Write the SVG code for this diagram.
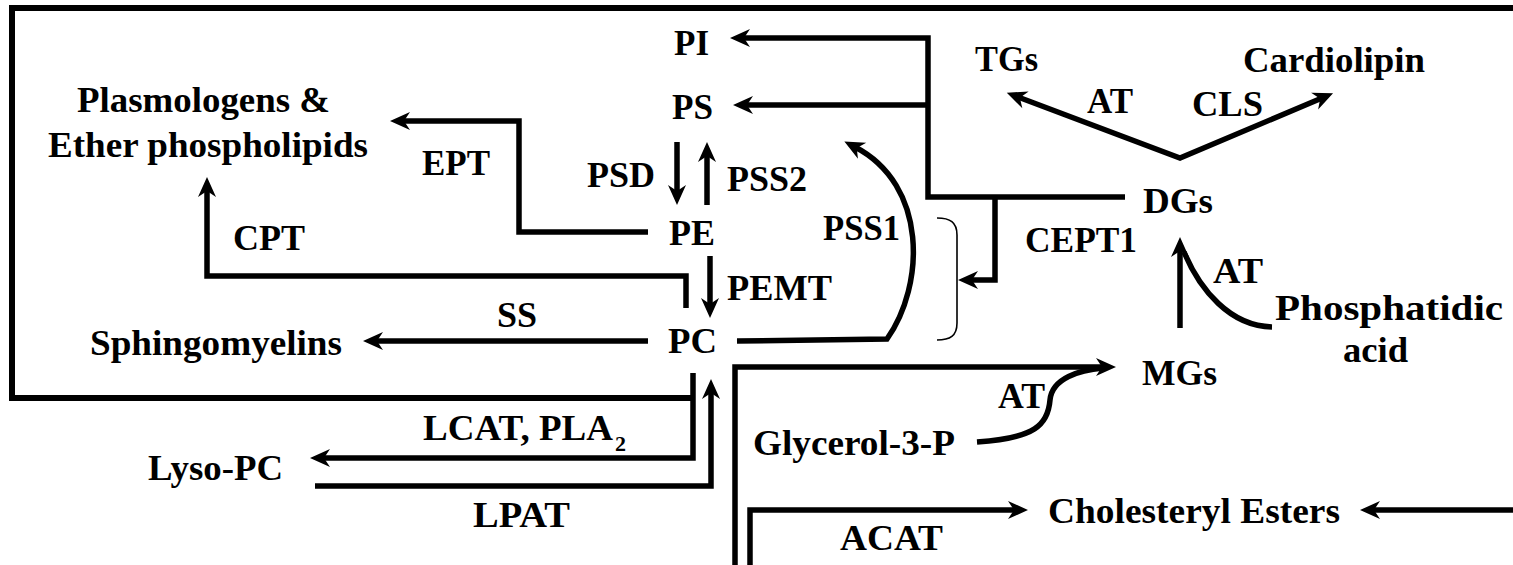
<svg xmlns="http://www.w3.org/2000/svg" width="1513" height="565" viewBox="0 0 1513 565">
<style>
text{font-family:"Liberation Serif","Times New Roman",serif;font-weight:bold;font-size:36px;fill:#000}
.sub{font-size:22px}
.ln{fill:none;stroke:#000;stroke-width:5.5;stroke-linejoin:miter}
.fr{fill:none;stroke:#000;stroke-width:6}
.thin{fill:none;stroke:#000;stroke-width:1.6}
.arr{marker-end:url(#ah)}
</style>
<defs>
<marker id="ah" viewBox="-21 -10 22 20" refX="-12" refY="0" markerWidth="22" markerHeight="20" markerUnits="userSpaceOnUse" orient="auto-start-reverse">
<path d="M0,0 L-20,-9 L-14,0 L-20,9 Z" fill="#000"/>
</marker>
</defs>
<rect width="1513" height="565" fill="#fff"/>
<g id="connectors">
<path class="fr" d="M1530 8 H12 V398 H693"/>
<path class="ln arr" d="M693 373 V458 H322"/>
<path class="ln arr" d="M315 486 H711 V391"/>
<path class="ln arr" d="M1125 197 H928 V38 H742"/>
<path class="ln arr" d="M928 105 H745"/>
<path class="ln arr" d="M995 197 V280 H970"/>
<path class="ln arr" d="M677 142 V193"/>
<path class="ln arr" d="M707 205 V154"/>
<path class="ln arr" d="M710 256 V306"/>
<path class="ln arr" d="M648 232 H519 V121 H402"/>
<path class="ln arr" d="M686 308 V276 H207 V189"/>
<path class="ln arr" d="M648 341 H375"/>
<path class="ln arr" d="M737 341 L887 339 C925 285 928 185 855 147"/>
<path class="thin" d="M937 218 C950 218 957 222 957 235 V323 C957 336 950 340 937 340"/>
<path class="ln arr" d="M735 570 V367 H1104"/>
<path class="ln" d="M977 442 C1035 438 1048 425 1050 400 C1052 378 1080 370 1103 368"/>
<path class="ln arr" d="M750 570 V510 H1016"/>
<path class="ln arr" d="M1520 510 H1372"/>
<path class="ln" style="marker-start:url(#ah);marker-end:url(#ah)" d="M1018 97 L1180 158 L1322 98"/>
<path class="ln arr" d="M1180 328 V249"/>
<path class="ln" d="M1272 327 C1230 326 1200 290 1184 252"/>
</g>
<g id="node-PI"><text x="674" y="55" textLength="35" lengthAdjust="spacingAndGlyphs">PI</text></g>
<g id="node-PS"><text x="672" y="119" textLength="41" lengthAdjust="spacingAndGlyphs">PS</text></g>
<g id="node-PE"><text x="669" y="245" textLength="46" lengthAdjust="spacingAndGlyphs">PE</text></g>
<g id="node-PC"><text x="668" y="353" textLength="49" lengthAdjust="spacingAndGlyphs">PC</text></g>
<g id="label-PSD"><text x="587" y="187" textLength="68" lengthAdjust="spacingAndGlyphs">PSD</text></g>
<g id="label-PSS2"><text x="727" y="191" textLength="80" lengthAdjust="spacingAndGlyphs">PSS2</text></g>
<g id="label-PEMT"><text x="727" y="300" textLength="105" lengthAdjust="spacingAndGlyphs">PEMT</text></g>
<g id="label-PSS1"><text x="823" y="240" textLength="77" lengthAdjust="spacingAndGlyphs">PSS1</text></g>
<g id="node-TGs"><text x="975" y="71" textLength="63" lengthAdjust="spacingAndGlyphs">TGs</text></g>
<g id="node-Cardiolipin"><text x="1243" y="72" textLength="182" lengthAdjust="spacingAndGlyphs">Cardiolipin</text></g>
<g id="label-AT1"><text x="1087" y="113" textLength="46" lengthAdjust="spacingAndGlyphs">AT</text></g>
<g id="label-CLS"><text x="1192" y="116" textLength="71" lengthAdjust="spacingAndGlyphs">CLS</text></g>
<g id="node-DGs"><text x="1143" y="213" textLength="70" lengthAdjust="spacingAndGlyphs">DGs</text></g>
<g id="label-CEPT1"><text x="1025" y="252" textLength="112" lengthAdjust="spacingAndGlyphs">CEPT1</text></g>
<g id="label-AT2"><text x="1213" y="283" textLength="50" lengthAdjust="spacingAndGlyphs">AT</text></g>
<g id="node-PA"><text x="1275" y="320" textLength="228" lengthAdjust="spacingAndGlyphs">Phosphatidic</text><text x="1343" y="362" textLength="65" lengthAdjust="spacingAndGlyphs">acid</text></g>
<g id="node-MGs"><text x="1142" y="385" textLength="75" lengthAdjust="spacingAndGlyphs">MGs</text></g>
<g id="label-AT3"><text x="998" y="408" textLength="47" lengthAdjust="spacingAndGlyphs">AT</text></g>
<g id="node-G3P"><text x="753" y="455" textLength="202" lengthAdjust="spacingAndGlyphs">Glycerol-3-P</text></g>
<g id="node-CE"><text x="1048" y="523" textLength="292" lengthAdjust="spacingAndGlyphs">Cholesteryl Esters</text></g>
<g id="label-ACAT"><text x="840" y="550" textLength="103" lengthAdjust="spacingAndGlyphs">ACAT</text></g>
<g id="label-LCAT"><text x="423" y="440" textLength="190" lengthAdjust="spacingAndGlyphs">LCAT, PLA</text><text class="sub" x="615" y="451">2</text></g>
<g id="node-LysoPC"><text x="148" y="480" textLength="135" lengthAdjust="spacingAndGlyphs">Lyso-PC</text></g>
<g id="label-LPAT"><text x="473" y="527" textLength="97" lengthAdjust="spacingAndGlyphs">LPAT</text></g>
<g id="node-SM"><text x="90" y="355" textLength="252" lengthAdjust="spacingAndGlyphs">Sphingomyelins</text></g>
<g id="label-SS"><text x="497" y="327" textLength="40" lengthAdjust="spacingAndGlyphs">SS</text></g>
<g id="label-CPT"><text x="233" y="250" textLength="72" lengthAdjust="spacingAndGlyphs">CPT</text></g>
<g id="label-EPT"><text x="422" y="175" textLength="68" lengthAdjust="spacingAndGlyphs">EPT</text></g>
<g id="node-Plasmologens"><text x="77" y="112" textLength="253" lengthAdjust="spacingAndGlyphs">Plasmologens &amp;</text><text x="48" y="157" textLength="320" lengthAdjust="spacingAndGlyphs">Ether phospholipids</text></g>
</svg>
